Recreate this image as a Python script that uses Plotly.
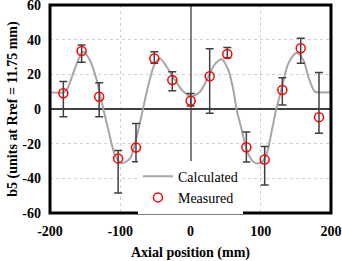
import plotly.graph_objects as go

# Calculated curve
calc_x = [-200, -181, -175, -167, -158, -152.6, -143, -133.5, -126, -117, -107.5, -98, -86, -79, -72, -65, -58, -51, -43.4,
          -34, -22, -10, 1.7, 13.5, 25.3, 35, 44.4, 53.8, 61, 65.8, 72.9, 80, 89.4, 98, 106, 111, 116, 121, 126, 131,
          139, 151, 160.6, 167.7, 177, 184, 200]
calc_y = [9.6, 9.6, 12, 20.6, 30, 33, 28, 16.7, 3.3, -12, -26.5, -31.3, -28.5, -20, -8, 5, 17, 26, 29.2,
          24.4, 16.7, 10, 7.5, 10, 18.6, 26, 28.7, 22.5, 11, -0.6, -12, -23.7, -30.4, -31.3, -28.5, -22, -12, -2, 6, 14,
          26, 32.5, 28.3, 18.6, 10, 9.6, 9.6]

# Measured points with asymmetric error bars
meas_x = [-181, -155, -130, -103, -77.6, -51.5, -25.9, 0.2, 27.3, 52.4, 79.5, 105.6, 130.7, 156.9, 182.9]
meas_y = [9.1, 33.5, 7.1, -28.5, -22.2, 29.2, 16.7, 4.8, 18.9, 31.7, -22.1, -29.2, 11.0, 35.0, -4.7]
err_hi = [15.8, 36.9, 15.2, -24.0, -8.3, 33.0, 21.5, 9.0, 34.8, 35.5, -13.3, -21.7, 18.0, 40.8, 21.0]
err_lo = [-4.4, 27.0, -4.4, -48.5, -30.5, 26.4, 10.6, 1.7, -2.5, 29.5, -30.6, -43.9, 2.3, 26.4, -14.0]

x_ticks = [-200, -100, 0, 100, 200]
x_labels = ["-200", "-100", "0", "100", "200"]
y_ticks = [-60, -40, -20, 0, 20, 40, 60]
y_labels = ["-60", "-40", "-20", "0", "20", "40", "60"]

plus = [h - y for h, y in zip(err_hi, meas_y)]
minus = [y - l for l, y in zip(err_lo, meas_y)]

font_fam = "Liberation Serif"

fig = go.Figure()
fig.add_trace(go.Scatter(
    x=calc_x, y=calc_y, mode="lines", name="Calculated",
    line=dict(color="#a6a6a6", width=2, shape="spline", smoothing=0.8),
))
fig.add_trace(go.Scatter(
    x=meas_x, y=meas_y, mode="markers", name="Measured",
    marker=dict(symbol="circle-open", size=9, color="#ff0000", line=dict(width=1.5, color="#ff0000")),
    error_y=dict(type="data", symmetric=False, array=plus, arrayminus=minus,
                 color="#404040", thickness=1.5, width=4),
))

fig.update_layout(
    width=342, height=261,
    margin=dict(l=50, r=11, t=5, b=48, autoexpand=False),
    paper_bgcolor="white", plot_bgcolor="white",
    font=dict(family=font_fam, color="black", size=14),
    showlegend=True,
    legend=dict(x=0.313, y=0.252, xanchor="left", yanchor="top",
                bgcolor="white", borderwidth=0,
                font=dict(family=font_fam, size=14, color="black"),
                itemwidth=30, tracegroupgap=0),
    xaxis=dict(range=[-200, 200], tickvals=x_ticks, ticktext=x_labels, automargin=False,
               showgrid=True, gridcolor="#d0d0d0", griddash="dot", gridwidth=1,
               zeroline=True, zerolinecolor="#808080", zerolinewidth=2,
               showline=False, ticks="", ticklabelstandoff=8, ticklabeloverflow="allow",
               tickfont=dict(family=font_fam, size=14, weight="bold"),
               title=dict(text="Axial position (mm)", standoff=14,
                          font=dict(family=font_fam, size=14, weight="bold"))),
    yaxis=dict(range=[-60, 60], tickvals=y_ticks, ticktext=y_labels, automargin=False,
               showgrid=True, gridcolor="#d0d0d0", griddash="dot", gridwidth=1,
               zeroline=True, zerolinecolor="#404040", zerolinewidth=1.5,
               showline=False, ticks="", ticklabelstandoff=8, ticklabeloverflow="allow",
               tickfont=dict(family=font_fam, size=14, weight="bold"),
               title=dict(text="b5 (units at Rref = 11.75 mm)", standoff=1,
                          font=dict(family=font_fam, size=14, weight="bold"))),
    shapes=[dict(type="rect", xref="paper", yref="paper", x0=0, x1=1, y0=0, y1=1,
                 line=dict(color="black", width=3), layer="above")],
)

fig.write_html("out.html", config={"displayModeBar": False},
               post_script="document.body.style.margin='0';document.body.style.padding='0';")
